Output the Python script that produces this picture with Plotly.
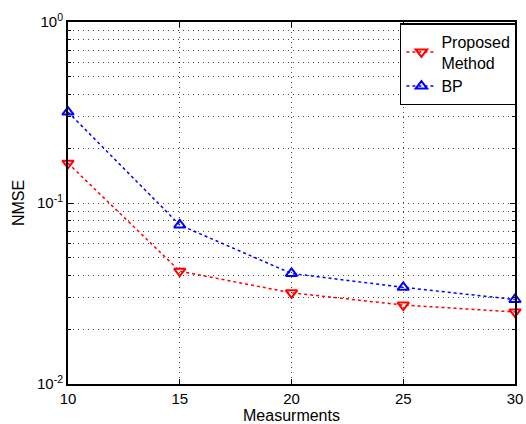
import plotly.graph_objects as go

measurements = [10, 15, 20, 25, 30]
proposed = [0.166, 0.042, 0.0319, 0.0273, 0.025]
bp = [0.318, 0.0756, 0.0408, 0.0342, 0.0293]
x_ticks = [10, 15, 20, 25, 30]
y_ticks = [0.01, 0.1, 1]
y_ticktext = ["10<sup>-2</sup>", "10<sup>-1</sup>", "10<sup>0</sup>"]
y_minor = [m * d for d in (0.01, 0.1) for m in range(2, 10)]

font = "Liberation Sans, Arial, sans-serif"
grid_dash = "1px,4px"
grid_color = "#444"

fig = go.Figure()
fig.add_trace(go.Scatter(
    x=measurements, y=proposed, mode="lines+markers", name="Proposed<br>Method",
    line=dict(color="red", dash="dot", width=1.5),
    marker=dict(symbol="triangle-down-open", size=10, color="red", line=dict(width=2, color="red")),
    cliponaxis=False,
))
fig.add_trace(go.Scatter(
    x=measurements, y=bp, mode="lines+markers", name="BP",
    line=dict(color="blue", dash="dot", width=1.5),
    marker=dict(symbol="triangle-up-open", size=10, color="blue", line=dict(width=2, color="blue")),
    cliponaxis=False,
))

fig.update_layout(
    width=526, height=424,
    margin=dict(l=68, r=10, t=22, b=40),
    paper_bgcolor="white", plot_bgcolor="white",
    font=dict(family=font, size=15, color="black"),
    showlegend=True,
    legend=dict(x=1.002, y=0.997, xanchor="right", yanchor="top",
                bordercolor="black", borderwidth=1.5, bgcolor="white",
                font=dict(size=16), tracegroupgap=0, itemwidth=30),
    xaxis=dict(
        title=dict(text="Measurments", font=dict(size=16), standoff=1),
        automargin=False,
        range=[10, 30], tickvals=x_ticks, ticks="inside", ticklen=5,
        tickcolor="black", showline=True, linecolor="black", linewidth=2,
        mirror="ticks", showgrid=True, gridcolor=grid_color, griddash=grid_dash,
        gridwidth=1, zeroline=False,
    ),
    yaxis=dict(
        title=dict(text="NMSE", font=dict(size=16), standoff=8),
        automargin=False,
        type="log", range=[-2, 0], tickvals=y_ticks, ticktext=y_ticktext,
        ticks="inside", ticklen=5, tickcolor="black", showline=True,
        linecolor="black", linewidth=2, mirror="ticks", showgrid=True,
        gridcolor=grid_color, griddash=grid_dash, gridwidth=1, zeroline=False,
        minor=dict(tickvals=y_minor, ticks="inside", ticklen=3,
                   tickcolor="black", showgrid=True, gridcolor=grid_color,
                   griddash=grid_dash, gridwidth=1),
    ),
)

fig.write_html("out.html")
